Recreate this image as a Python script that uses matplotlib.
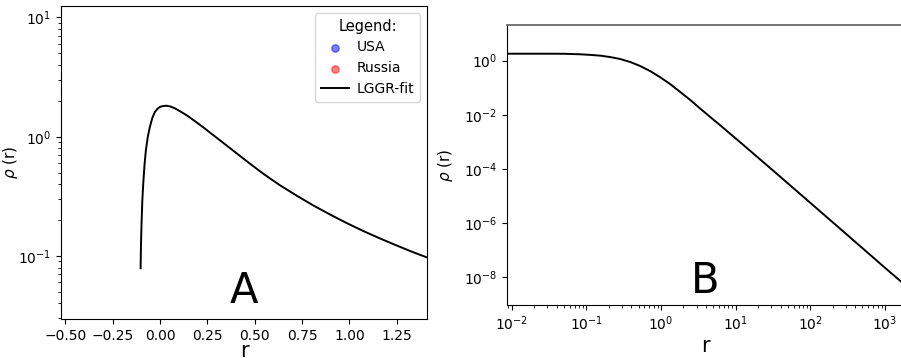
import matplotlib
matplotlib.use("Agg")
import matplotlib.pyplot as plt
import numpy as np
from matplotlib.ticker import LogLocator, NullLocator, FixedLocator

# --- panel A: density on a linear r axis ---
r_a = [-0.102, -0.100, -0.097, -0.093, -0.088, -0.081, -0.074, -0.064, -0.053,
       -0.040, -0.026, -0.012, 0.000, 0.018, 0.035, 0.056, 0.079, 0.110, 0.141,
       0.185, 0.228, 0.272, 0.317, 0.369, 0.419, 0.480, 0.545, 0.630, 0.721,
       0.810, 0.897, 0.985, 1.073, 1.160, 1.249, 1.330, 1.407]
rho_a = [0.079, 0.125, 0.188, 0.290, 0.407, 0.590, 0.774, 1.000, 1.210,
         1.440, 1.620, 1.720, 1.780, 1.810, 1.820, 1.791, 1.730, 1.622, 1.514,
         1.349, 1.202, 1.059, 0.933, 0.804, 0.697, 0.586, 0.490, 0.395, 0.321,
         0.265, 0.223, 0.189, 0.162, 0.1406, 0.1225, 0.1086, 0.0975]

# --- panel B: same fit on log-log axes ---
r_b = [0.0087, 0.0316, 0.050, 0.083, 0.112, 0.155, 0.209, 0.282, 0.389, 0.525,
       0.724, 0.977, 1.318, 1.82, 2.512, 3.39, 6.31, 11.5, 31.6, 100.0, 316.0,
       1000.0, 1862.0]
rho_b = [1.81, 1.81, 1.80, 1.72, 1.64, 1.53, 1.36, 1.16, 0.891, 0.637,
         0.407, 0.244, 0.139, 0.0692, 0.034, 0.0166, 0.00398, 9.77e-4,
         8.91e-5, 5.69e-6, 3.63e-7, 2.29e-8, 5.25e-9]

# empty country series, they only show up in the legend
usa_r, usa_rho = [], []
rus_r, rus_rho = [], []

W, H = 901, 358
fig = plt.figure(figsize=(W / 100, H / 100), dpi=100)

ax_a = fig.add_axes([61 / W, 39 / H, 366 / W, 313 / H])
ax_b = fig.add_axes([507.3 / W, 53 / H, (904 - 507.3) / W, 280.3 / H])

# Panel A
ax_a.scatter(usa_r, usa_rho, color='blue', alpha=0.5, s=28, label='USA')
ax_a.scatter(rus_r, rus_rho, color='red', alpha=0.5, s=28, label='Russia')
ax_a.plot(r_a, rho_a, color='black', linewidth=1.4, label='LGGR-fit')
ax_a.set_yscale('log')
ax_a.set_xlim(-0.522, 1.409)
ax_a.set_ylim(10 ** -1.528, 10 ** 1.096)
ax_a.set_xticks(np.arange(-0.5, 1.26, 0.25))
ax_a.set_xlabel('r', fontsize=15, labelpad=-1)
ax_a.set_ylabel(r'$\rho$ (r)', fontsize=11)
ax_a.yaxis.set_label_coords(-0.112, 0.5)
ax_a.tick_params(axis='both', labelsize=10)
ax_a.text(0.5, 0.051, 'A', transform=ax_a.transAxes, ha='center',
          va='baseline', fontsize=30)
ax_a.legend(title='Legend:', loc='upper right', fontsize=10,
            title_fontsize=10.5, frameon=True, handletextpad=0.6)

# Panel B
ax_b.plot(r_b, rho_b, color='black', linewidth=1.4)
ax_b.set_xscale('log')
ax_b.set_yscale('log')
ax_b.set_xlim(10 ** -2.059, 10 ** 3.255)
ax_b.set_ylim(10 ** -9.015, 10 ** 1.328)
ax_b.yaxis.set_major_locator(FixedLocator([1e-8, 1e-6, 1e-4, 1e-2, 1e0]))
ax_b.yaxis.set_minor_locator(NullLocator())
ax_b.xaxis.set_major_locator(LogLocator(base=10, numticks=12))
ax_b.xaxis.set_minor_locator(LogLocator(base=10, subs=np.arange(2, 10), numticks=12))
ax_b.set_xlabel('r', fontsize=15, labelpad=2)
ax_b.set_ylabel(r'$\rho$ (r)', fontsize=11)
ax_b.yaxis.set_label_coords(-0.132, 0.5)
ax_b.tick_params(axis='both', labelsize=10)
ax_b.spines['top'].set_color('#6a6a6a')
ax_b.spines['top'].set_linewidth(1.3)
ax_b.text(0.5, 0.043, 'B', transform=ax_b.transAxes, ha='center',
          va='baseline', fontsize=30)

fig.savefig('out.png', dpi=100)
